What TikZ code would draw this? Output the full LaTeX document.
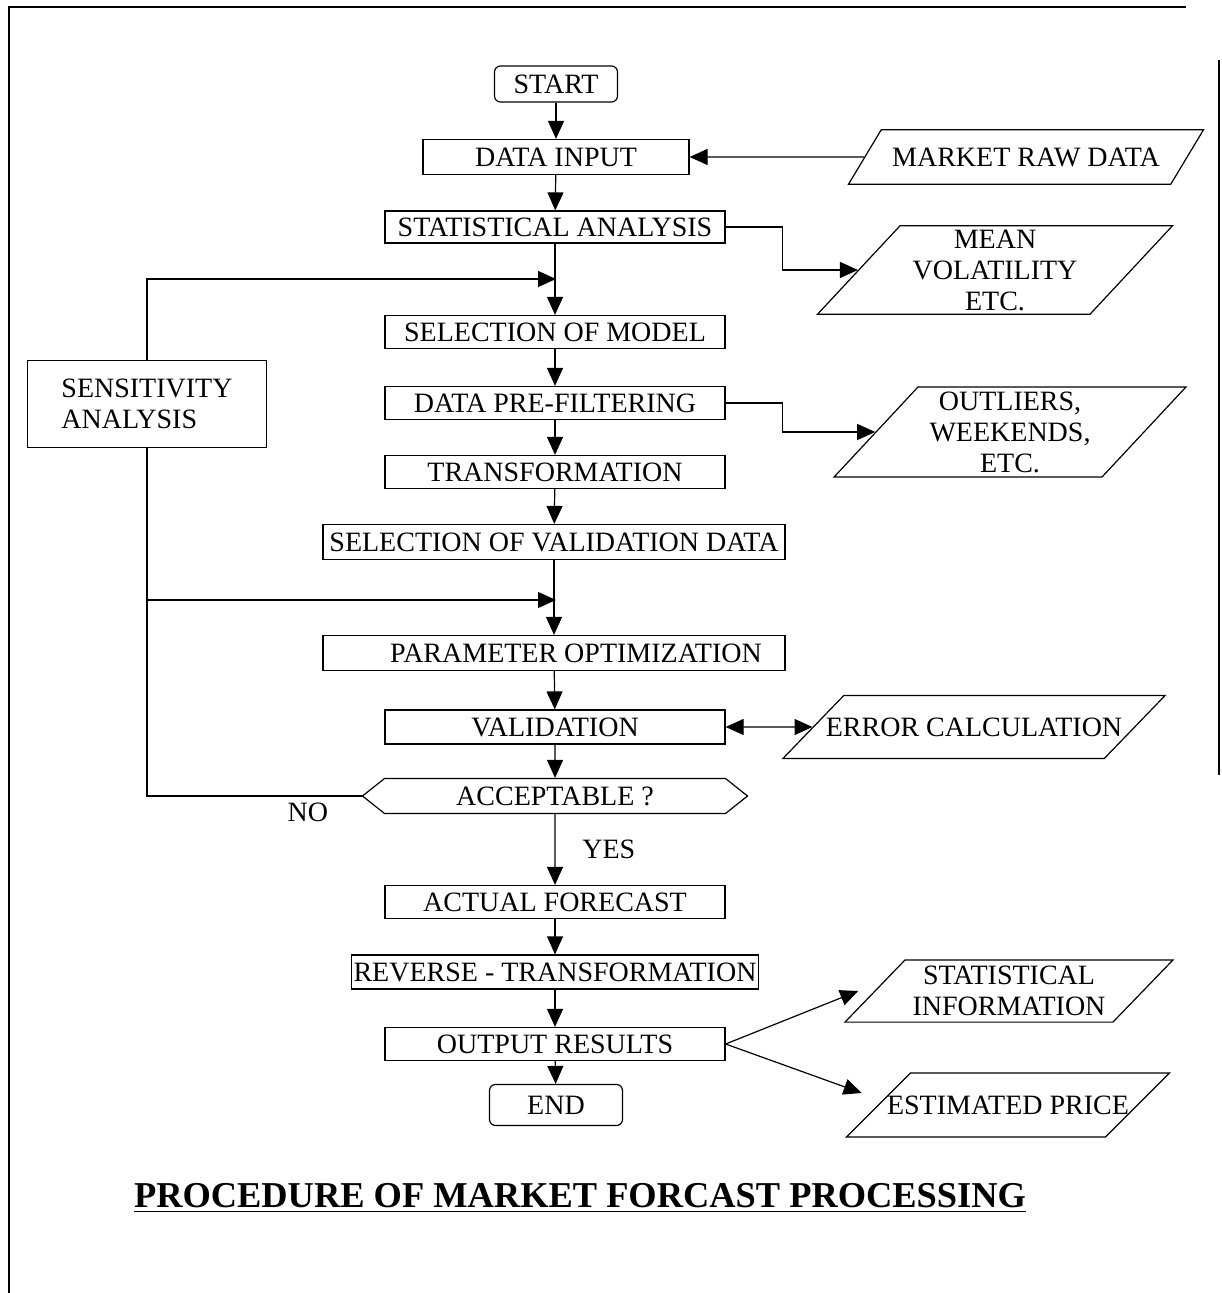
\documentclass[tikz,border=0pt]{standalone}
\usepackage{fontspec}
\setmainfont{Liberation Serif}
\usetikzlibrary{positioning, shapes.geometric, shapes.symbols, arrows.meta}

\tikzset{
  flow/.style={line width=0.6pt, -{Triangle[length=9pt,width=8pt]}},
  bothflow/.style={line width=0.6pt, {Triangle[length=9pt,width=8pt]}-{Triangle[length=9pt,width=8pt]}},
  link/.style={line width=0.6pt},
  procbox/.style={draw, line width=0.6pt, minimum width=170pt, minimum height=16.5pt, inner sep=1pt},
  endbox/.style={procbox, rounded corners=3pt},
  askbox/.style={draw, line width=0.6pt, signal, signal to=west and east, signal pointer angle=77,
    minimum width=192.5pt, minimum height=17.5pt, inner sep=1pt},
  iobox/.style 2 args={draw, line width=0.6pt, trapezium, trapezium left angle=#1,
    /utils/exec={\pgfmathsetmacro\ioang{180-#1}}, trapezium right angle=\ioang,
    trapezium stretches body, inner xsep=1pt, inner ysep=#2, align=center},
}

\begin{document}
\begin{tikzpicture}[x=0.5pt, y=-0.5pt, every node/.style={font=\fontsize{14}{15.5}\selectfont}]
    \useasboundingbox (0,0) rectangle (1221,1293);
    % page frame
    \draw[link] (1186,7) -- (9,7) -- (9,1293);
    \draw[link] (1219,60) -- (1219,775);

    % main column
    \node[endbox, minimum width=61.5pt, minimum height=18pt] (start) at (556,84) {START};
    \node[procbox, minimum width=133pt, minimum height=17.5pt] (datain) at (556,157) {DATA INPUT};
    \node[procbox, minimum height=16pt] (statan) at (555,227) {STATISTICAL ANALYSIS};
    \node[procbox] (selmod) at (555,332) {SELECTION OF MODEL};
    \node[procbox] (prefilt) at (555,403) {DATA PRE-FILTERING};
    \node[procbox] (transf) at (555,472) {TRANSFORMATION};
    \node[procbox, minimum width=231pt, minimum height=17.5pt] (selval) at (554,542) {SELECTION OF VALIDATION DATA};
    \node[procbox, minimum width=231pt, minimum height=17.5pt] (paropt) at (554,653) {\hspace*{22pt}PARAMETER OPTIMIZATION};
    \node[procbox, minimum height=17pt] (valid) at (555,727) {VALIDATION};
    \node[askbox] (accept) at (555,796) {ACCEPTABLE ?};
    \node[procbox] (actfc) at (555,902) {ACTUAL FORECAST};
    \node[procbox, minimum width=202pt, minimum height=17pt] (revtr) at (555,972) {REVERSE - TRANSFORMATION};
    \node[procbox] (outres) at (555,1044) {OUTPUT RESULTS};
    \node[endbox, minimum width=66.5pt, minimum height=20.5pt] (endn) at (556,1105) {END};

    % side boxes
    \node[draw, line width=0.6pt, minimum width=119.5pt, minimum height=43.5pt, align=left] (sens) at (147,404) {SENSITIVITY\\ANALYSIS};
    \node[iobox={59}{8.9pt}, minimum width=177.5pt] (rawdata) at (1026,157) {MARKET RAW DATA};
    \node[iobox={47}{1.9pt}, minimum width=177.5pt] (meanvol) at (995,270) {MEAN\\VOLATILITY\\ETC.};
    \node[iobox={47}{2.3pt}, minimum width=176pt] (outliers) at (1010,432) {OUTLIERS,\\WEEKENDS,\\ETC.};
    \node[iobox={46}{11pt}, inner xsep=-10pt, minimum width=191pt] (errcalc) at (974,727) {ERROR CALCULATION};
    \node[iobox={46}{3.1pt}, minimum width=164pt] (statinfo) at (1009,991) {STATISTICAL\\INFORMATION};
    \node[iobox={45}{11.3pt}, inner xsep=-14pt, minimum width=161.5pt] (estprice) at (1008,1105) {ESTIMATED PRICE};

    % title
    \node[font=\bfseries\fontsize{18.2}{20}\selectfont] (title) at (580,1198) {\underline{PROCEDURE OF MARKET FORCAST PROCESSING}};

    \coordinate (backin) at (556,279);
    \coordinate (branch) at (147,600);
    \coordinate (backin2) at (556,600);

    \draw[flow] (start) -- (datain);
    \draw[flow] (rawdata) -- (datain);
    \draw[flow] (datain) -- (statan);
    \draw[flow] (statan) -- (selmod);
    \draw[flow] (statan.east) -- ++(57,0) |- (meanvol.west);
    \draw[flow] (selmod) -- (prefilt);
    \draw[flow] (prefilt.east) -- ++(57,0) |- (outliers.west);
    \draw[flow] (prefilt) -- (transf);
    \draw[flow] (transf) -- (selval);
    \draw[flow] (selval) -- (paropt);
    \draw[flow] (paropt) -- (valid);
    \draw[bothflow] (valid) -- (errcalc);
    \draw[flow] (valid) -- (accept);
    \draw[flow] (accept) -- node[right=10pt] {YES} (actfc);
    \draw[flow] (actfc) -- (revtr);
    \draw[flow] (revtr) -- (outres);
    \draw[flow] (outres) -- (endn);
    \draw[flow] (outres.east) -- ([xshift=-8pt]statinfo.west);
    \draw[flow] (outres.east) -- ([xshift=-8pt, yshift=6pt]estprice.west);

    % feedback loop
    \draw[link] (accept.west) -- node[pos=0.25, below] {NO} (branch |- accept.west) -- (sens.south);
    \draw[flow] (sens.north) |- (backin);
    \draw[flow] (branch) -- (backin2);
\end{tikzpicture}
\end{document}
